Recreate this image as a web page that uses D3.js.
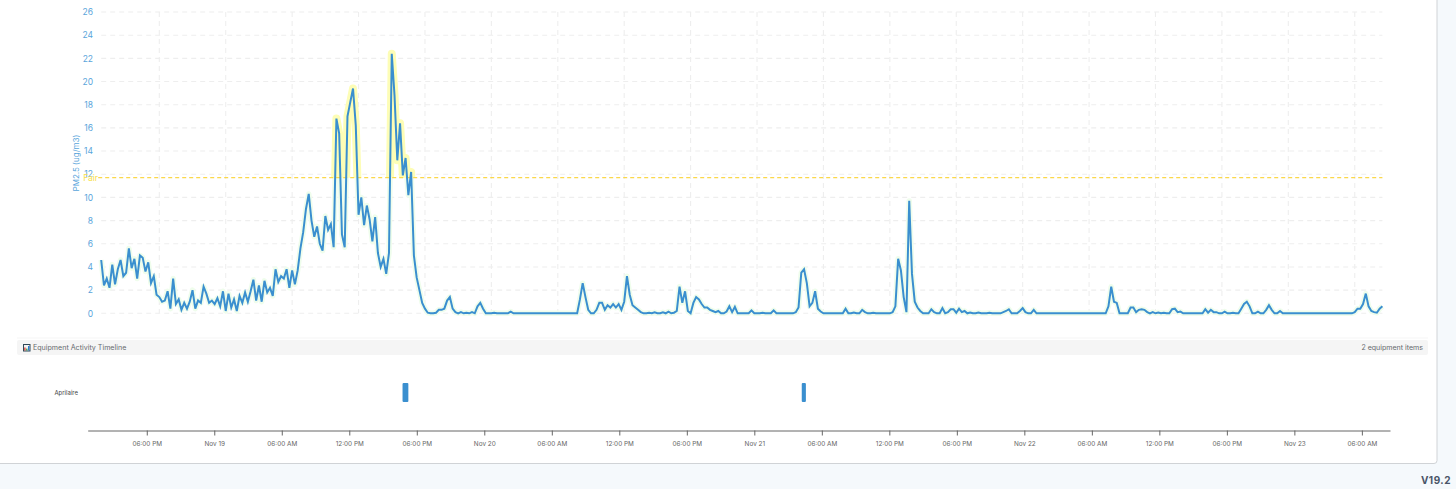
<!DOCTYPE html>
<html>
<head>
<meta charset="utf-8">
<script src="https://cdn.jsdelivr.net/npm/d3@7"></script>
<style>
  html, body { margin: 0; padding: 0; background: #f5f9fc; }
  svg { display: block; font-family: Inter, "Noto Sans", sans-serif; }
</style>
</head>
<body>
<svg id="chart" width="1456" height="489"></svg>
<script>
// PM2.5 reading every 15 minutes. One row = 6 hours.
const startTime = Date.UTC(2024, 10, 18, 12, 45);
const stepMinutes = 15;
const pm25Values = [
  4.6,2.4,3.0,2.2,4.2,2.5,3.8,4.6,3.2,3.5,5.6,3.9,4.7,3.0,5.0,4.8,3.6,4.4,2.6,3.2,1.6,
  1.4,1.0,1.1,1.9,0.4,3.0,0.8,1.2,0.3,0.9,0.4,1.0,2.0,0.4,1.1,0.9,2.3,1.7,0.9,1.1,0.8,1.3,0.6,1.9,
  0.2,1.7,0.5,1.2,0.2,1.5,0.9,1.8,1.0,1.9,2.9,1.1,2.4,1.0,2.8,1.8,2.2,1.5,3.8,2.7,3.2,3.0,3.8,2.2,
  3.7,2.5,3.7,5.6,7.0,9.0,10.3,8.0,6.6,7.5,6.0,5.4,8.4,7.2,7.7,5.7,16.8,15.5,6.8,5.7,17.0,18.2,19.4,16.2,
  8.5,10.0,7.6,9.3,8.1,6.2,8.3,5.2,4.0,4.7,3.4,5.2,22.4,18.8,13.2,16.4,11.9,13.4,10.2,12.2,5.0,3.1,2.0,0.9,
  0.4,0.05,0,0,0.05,0.3,0.3,0.4,1.1,1.4,0.4,0.1,0,0.1,0,0.05,0,0.1,0,0.6,0.9,0.4,0,0,
  0,0.05,0,0,0,0,0,0.15,0,0,0,0,0,0,0,0,0,0,0,0,0,0,0,0,
  0,0,0,0,0,0,0,0,1.2,2.6,1.4,0.3,0,0,0.3,0.9,0.9,0.3,0.7,0.5,0.8,0.5,0.8,0.3,
  1.0,3.2,1.6,0.7,0.5,0.3,0.1,0,0,0.05,0,0.08,0,0,0.08,0,0.15,0,0.05,0.2,2.3,0.9,1.9,0.2,
  0,0.9,1.4,1.2,0.8,0.5,0.5,0.3,0.2,0.1,0.2,0,0,0.15,0.6,0.1,0.55,0,0,0,0,0,0.25,0,
  0,0,0.05,0,0,0,0.25,0,0,0,0,0,0,0,0.1,0.5,3.5,3.8,2.6,0.6,0.9,1.9,0.4,0.15,
  0,0,0,0,0,0,0,0,0.4,0,0,0.07,0,0,0.3,0.1,0,0,0.05,0,0,0,0,0,
  0,0.1,0.6,4.7,3.7,1.4,0.1,9.7,3.4,1.0,0.5,0.2,0,0,0,0.35,0.1,0,0,0.45,0,0.1,0.35,0.35,
  0.05,0.4,0.1,0.2,0,0.07,0,0,0.07,0,0,0,0.05,0,0,0,0,0.1,0.2,0.35,0,0,0,0.2,
  0.45,0.1,0,0,0.3,0,0,0,0,0,0,0,0,0,0,0,0,0,0,0,0,0,0,0,
  0,0,0,0,0,0,0,0.6,2.3,1.0,0.9,0,0,0,0,0.5,0.5,0.1,0.3,0.35,0.3,0.1,0,0.1,
  0,0.07,0,0.05,0,0,0.35,0.4,0.1,0.15,0,0,0,0,0,0,0,0,0.35,0.05,0.3,0.1,0.1,0,
  0,0.15,0,0,0.05,0,0,0.4,0.8,1.0,0.6,0,0,0.15,0,0,0.3,0.7,0.3,0,0,0.2,0,0,
  0,0,0,0,0,0,0,0,0,0,0,0,0,0,0,0,0,0,0,0,0,0,0,0,
  0.1,0.4,0.4,0.8,1.7,0.6,0.2,0.1,0.05,0.4,0.6
];

const yTicks = [0, 2, 4, 6, 8, 10, 12, 14, 16, 18, 20, 22, 24, 26];
const fairLevel = 11.7;
const fairLabel = "Fair";
const yLabel = "PM2.5 (ug/m3)";

const equipmentNames = ["Aprilaire"];
const aprilaireRuns = [
  [Date.UTC(2024, 10, 19, 16, 44), Date.UTC(2024, 10, 19, 17, 15)],
  [Date.UTC(2024, 10, 21, 4, 13), Date.UTC(2024, 10, 21, 4, 35)]
];

const timelineTitle = "Equipment Activity Timeline";
const equipmentCount = "2 equipment items";
const versionLabel = "V19.2";

const domainStart = new Date(startTime);
const domainEnd = new Date(Date.UTC(2024, 10, 23, 8, 30));
const tickTimes = d3.utcHour.every(6).range(domainStart, domainEnd);
const fmtHour = d3.utcFormat("%I:%M %p");
const fmtDay = d3.utcFormat("%b %d");
const fmtTick = d => d.getUTCHours() === 0 ? fmtDay(d) : fmtHour(d);

const svg = d3.select("#chart");

// card
svg.append("rect").attr("x", -4).attr("y", -4).attr("width", 1441).attr("height", 467.5)
  .attr("rx", 3).attr("fill", "#fff").attr("stroke", "#d0d3d6");

// main chart
const x = d3.scaleUtc().domain([domainStart, domainEnd]).range([101.2, 1382.4]);
const y = d3.scaleLinear().domain([0, 26]).range([313.3, 12]);

const data = pm25Values.map((v, i) => ({
  time: new Date(startTime + i * stepMinutes * 60000),
  value: v
}));

const grid = svg.append("g").attr("fill", "none").attr("stroke", "#eeeeee")
  .attr("stroke-width", 1.1).attr("stroke-dasharray", "5 4");
grid.selectAll(".h").data(yTicks).enter().append("line").attr("class", "h")
  .attr("x1", x.range()[0]).attr("x2", x.range()[1])
  .attr("y1", d => y(d)).attr("y2", d => y(d));
grid.selectAll(".v").data(tickTimes).enter().append("line").attr("class", "v")
  .attr("x1", d => x(d)).attr("x2", d => x(d))
  .attr("y1", y(26)).attr("y2", y(0));

const yAxis = svg.append("g").attr("transform", "translate(93,0)")
  .call(d3.axisLeft(y).tickValues(yTicks).tickSize(0).tickPadding(0));
yAxis.select(".domain").remove();
yAxis.selectAll("text").attr("fill", "#5aa5db").style("font-size", "8.5px").style("font-family", "Inter");

svg.append("text").attr("transform", "translate(79,163) rotate(-90)")
  .attr("text-anchor", "middle").attr("fill", "#5aa5db").style("font-size", "8px")
  .text(yLabel);

const line = d3.line().x(d => x(d.time)).y(d => y(d.value));

svg.append("clipPath").attr("id", "aboveFair").append("rect")
  .attr("x", 0).attr("y", 0).attr("width", 1456).attr("height", y(fairLevel));

// glow under the line, green normally and yellow over the threshold
svg.append("path").datum(data).attr("d", line).attr("fill", "none")
  .attr("stroke", "#effdec").attr("stroke-width", 5.5).attr("stroke-linejoin", "round");
svg.append("path").datum(data).attr("d", line).attr("fill", "none")
  .attr("clip-path", "url(#aboveFair)")
  .attr("stroke", "#fdfdb6").attr("stroke-width", 8).attr("stroke-linejoin", "round")
  .attr("stroke-linecap", "round");

svg.append("line").attr("x1", x.range()[0] - 3).attr("x2", x.range()[1])
  .attr("y1", y(fairLevel)).attr("y2", y(fairLevel))
  .attr("stroke", "#fbd84a").attr("stroke-width", 1.2).attr("stroke-dasharray", "4 3");
svg.append("text").attr("x", 98).attr("y", y(fairLevel)).attr("dy", "0.35em")
  .attr("text-anchor", "end").attr("fill", "#f7e04a").style("font-size", "8.5px")
  .text(fairLabel);

svg.append("path").datum(data).attr("d", line).attr("fill", "none")
  .attr("stroke", "#3a8fcf").attr("stroke-width", 2).attr("stroke-linejoin", "miter");

// timeline header
svg.append("rect").attr("x", 17).attr("y", 337).attr("width", 1411).attr("height", 2).attr("fill", "#fafafa");
svg.append("rect").attr("x", 17).attr("y", 340).attr("width", 1411).attr("height", 15).attr("rx", 2).attr("fill", "#f5f5f5");

// chart icon
const icon = svg.append("g").attr("transform", "translate(23,344)");
icon.append("rect").attr("width", 7.5).attr("height", 7.5).attr("fill", "#2f4858");
icon.append("rect").attr("x", 1).attr("y", 1).attr("width", 5.5).attr("height", 5.5).attr("fill", "#f2f2f2");
icon.append("rect").attr("x", 1.2).attr("y", 3.5).attr("width", 1.4).attr("height", 3).attr("fill", "#d9453a");
icon.append("rect").attr("x", 3.1).attr("y", 4.6).attr("width", 1.4).attr("height", 1.9).attr("fill", "#3fa34d");
icon.append("rect").attr("x", 5).attr("y", 2).attr("width", 1.4).attr("height", 4.5).attr("fill", "#2f7fd1");

svg.append("text").attr("x", 33).attr("y", 347.6).attr("dy", "0.35em")
  .attr("fill", "#666a6e").style("font-size", "7.1px").text(timelineTitle);
svg.append("text").attr("x", 1423).attr("y", 347.6).attr("dy", "0.35em").attr("text-anchor", "end")
  .attr("fill", "#666a6e").style("font-size", "7.05px").text(equipmentCount);

// equipment timeline
const xLow = d3.scaleUtc().domain([domainStart, domainEnd]).range([87.7, 1390]);
const rowY = d3.scaleBand().domain(equipmentNames).range([383, 402]);

svg.append("text").attr("x", 78).attr("y", rowY(equipmentNames[0]) + 10).attr("dy", "0.35em")
  .attr("text-anchor", "end").attr("fill", "#444").style("font-size", "6px")
  .text(equipmentNames[0]);

svg.selectAll(".run").data(aprilaireRuns).enter().append("rect").attr("class", "run")
  .attr("x", d => xLow(d[0])).attr("width", d => xLow(d[1]) - xLow(d[0]))
  .attr("y", rowY(equipmentNames[0])).attr("height", rowY.bandwidth())
  .attr("rx", 1).attr("fill", "#3a8fcf");

const xAxis = svg.append("g").attr("transform", "translate(0,430.5)")
  .call(d3.axisBottom(xLow).tickValues(tickTimes).tickFormat(fmtTick).tickSize(5).tickSizeOuter(0).tickPadding(6));
xAxis.select(".domain").attr("stroke", "#666");
xAxis.selectAll(".tick line").attr("stroke", "#666");
xAxis.selectAll("text").attr("fill", "#666").style("font-size", "6.4px").style("font-family", "Inter");

svg.append("text").attr("x", 1451).attr("y", 480).attr("dy", "0.35em").attr("text-anchor", "end")
  .attr("fill", "#4a5568").style("font-size", "10px").style("font-weight", 700)
  .style("letter-spacing", "0.5px").text(versionLabel);
</script>
</body>
</html>
